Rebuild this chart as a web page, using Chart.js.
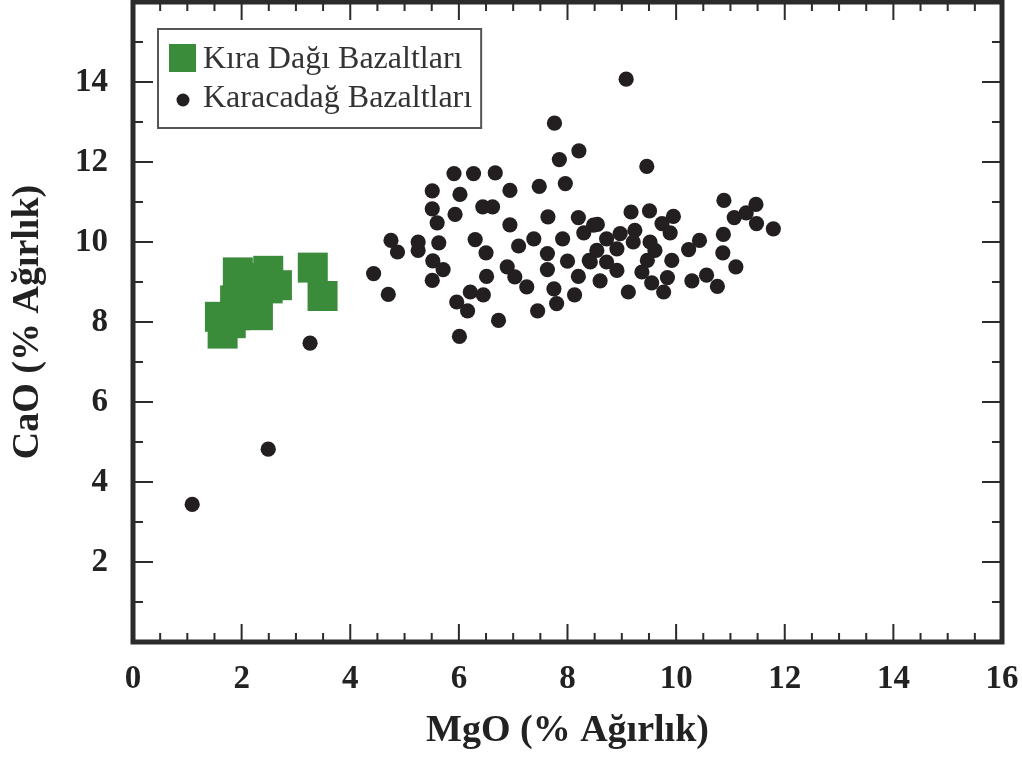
<!DOCTYPE html>
<html>
<head>
<meta charset="utf-8">
<title>MgO - CaO</title>
<script src="https://cdn.jsdelivr.net/npm/chart.js@4.4.1/dist/chart.umd.min.js"></script>
<style>
  html, body { margin: 0; padding: 0; background: #fff; }
  .wrap { width: 1022px; height: 762px; }
</style>
</head>
<body>
<div class="wrap"><canvas id="mgoChart"></canvas></div>
<script>
const seriesNames = ["Kıra Dağı Bazaltları", "Karacadağ Bazaltları"];

// Kıra Dağı (green squares)
const kiraMgO = [1.93, 2.49, 2.65, 2.30, 1.65, 1.80, 1.88, 1.60, 1.88, 2.48, 2.15, 2.10, 2.20, 2.00, 3.31, 3.49];
const kiraCaO = [9.24, 9.28, 8.92, 8.17, 7.71, 7.97, 8.17, 8.13, 8.54, 8.84, 8.79, 9.10, 8.50, 8.30, 9.36, 8.65];

// Karacadağ (black dots)
const karaMgO = [
  7.76, 8.21, 7.85, 7.96, 7.48, 5.91, 6.27, 6.67, 5.51, 6.02, 6.94, 5.51, 5.93, 6.44, 6.62, 5.60,
  6.94, 7.64, 8.20, 8.48, 8.30, 4.75, 4.87, 5.25, 5.25, 5.63, 6.30, 6.50, 7.10, 7.38, 7.91, 7.63,
  7.63, 8.00, 8.20, 8.42, 5.52, 5.71, 5.51, 4.43, 4.70, 6.51, 6.89, 7.03, 7.25, 6.21, 6.45, 5.96,
  6.16, 6.01, 6.73, 7.45, 7.75, 7.80, 8.13,
  9.08, 9.46, 10.88, 11.47, 11.29, 11.07, 11.48, 11.79, 10.87, 10.86, 11.10, 10.29, 10.56, 10.76,
  10.43, 10.23, 9.95, 9.51, 9.17, 9.74, 8.55, 8.97, 8.72, 9.24, 9.89, 8.54, 8.91, 9.21, 9.52, 9.61,
  9.47, 9.92, 8.40, 8.72, 8.91, 9.37, 9.84, 9.55, 9.77, 8.60, 9.12,
  3.26, 2.49, 1.09
];
const karaCaO = [
  12.97, 12.28, 12.06, 11.46, 11.39, 11.71, 11.71, 11.73, 11.28, 11.19, 11.29, 10.83, 10.69, 10.88, 10.88, 10.48,
  10.43, 10.63, 10.61, 10.42, 10.23, 10.04, 9.75, 10.00, 9.79, 9.98, 10.06, 9.73, 9.90, 10.08, 10.08, 9.71,
  9.31, 9.52, 9.14, 9.50, 9.53, 9.31, 9.04, 9.21, 8.69, 9.14, 9.38, 9.13, 8.88, 8.75, 8.68, 8.50,
  8.28, 7.64, 8.04, 8.28, 8.83, 8.46, 8.68,
  14.07, 11.89, 11.04, 10.94, 10.73, 10.61, 10.46, 10.33, 10.19, 9.73, 9.38, 9.03, 9.17, 8.89,
  10.04, 9.81, 10.64, 10.78, 10.75, 10.46, 10.44, 10.21, 10.08, 10.29, 10.23, 9.79, 9.83, 10.00, 10.00, 9.79,
  9.54, 9.54, 9.54, 9.50, 9.29, 9.25, 9.11, 8.98, 8.75, 9.03, 8.75,
  7.47, 4.82, 3.44
];

const xTickLabels = [0, 2, 4, 6, 8, 10, 12, 14, 16];
const yTickLabels = [2, 4, 6, 8, 10, 12, 14];

const serif = "'Liberation Serif', 'Times New Roman', serif";
const ink = "#222";

const toPoints = (xs, ys) => xs.map((x, i) => ({ x: x, y: ys[i] }));

// frame with inward ticks on all four sides
const framePlugin = {
  id: "frame",
  beforeDatasetsDraw(chart) {
    const { ctx, chartArea: a, scales } = chart;
    ctx.save();
    ctx.strokeStyle = "#2b2b2b";
    ctx.lineWidth = 2;
    ctx.beginPath();
    for (let v = 0; v <= 16; v += 0.5) {
      const px = scales.x.getPixelForValue(v);
      const len = v % 2 === 0 ? 18 : 9;
      ctx.moveTo(px, a.bottom);
      ctx.lineTo(px, a.bottom - len);
      ctx.moveTo(px, a.top);
      ctx.lineTo(px, a.top + len);
    }
    for (let v = 0; v <= 16; v += 1) {
      const py = scales.y.getPixelForValue(v);
      const len = v % 2 === 0 ? 20 : 10;
      ctx.moveTo(a.left, py);
      ctx.lineTo(a.left + len, py);
      ctx.moveTo(a.right, py);
      ctx.lineTo(a.right - len, py);
    }
    ctx.stroke();
    ctx.lineWidth = 5;
    ctx.strokeRect(a.left, a.top, a.right - a.left, a.bottom - a.top);
    ctx.restore();
  },
};

// boxed legend inside the plot, upper left
const boxLegend = {
  id: "boxLegend",
  afterDraw(chart) {
    const { ctx, chartArea: a } = chart;
    const sets = chart.data.datasets;
    ctx.save();
    ctx.font = "32px " + serif;
    const textX = a.left + 70;
    const widest = Math.max(...sets.map((d) => ctx.measureText(d.label).width));
    const boxL = a.left + 25;
    const boxT = a.top + 27;
    ctx.lineWidth = 2;
    ctx.strokeStyle = "#555";
    ctx.strokeRect(boxL, boxT, textX + widest + 9 - boxL, 99);

    ctx.fillStyle = sets[0].backgroundColor;
    ctx.fillRect(a.left + 36, a.top + 42, 27, 28);

    ctx.beginPath();
    ctx.arc(a.left + 50, a.top + 98, 6.5, 0, Math.PI * 2);
    ctx.fillStyle = sets[1].backgroundColor;
    ctx.fill();

    ctx.fillStyle = "#333";
    ctx.textBaseline = "middle";
    ctx.textAlign = "left";
    ctx.fillText(sets[0].label, textX, a.top + 58);
    ctx.fillText(sets[1].label, textX, a.top + 97);
    ctx.restore();
  },
};

const ctx = document.getElementById("mgoChart");

const myChart = new Chart(ctx, {
  type: "scatter",
  data: {
    datasets: [
      {
        label: seriesNames[0],
        data: toPoints(kiraMgO, kiraCaO),
        pointStyle: "rect",
        pointRadius: 21.2,
        borderWidth: 0,
        backgroundColor: "#3a8b3a",
        borderColor: "#3a8b3a",
      },
      {
        label: seriesNames[1],
        data: toPoints(karaMgO, karaCaO),
        pointStyle: "circle",
        pointRadius: 7.6,
        borderWidth: 0,
        backgroundColor: "#231f20",
        borderColor: "#231f20",
      },
    ],
  },
  options: {
    responsive: true,
    maintainAspectRatio: false,
    animation: false,
    events: [],
    layout: {
      autoPadding: false,
      padding: { top: 2, right: 20, left: 0, bottom: 0 },
    },
    plugins: {
      legend: { display: false },
      tooltip: { enabled: false },
    },
    scales: {
      x: {
        type: "linear",
        min: 0,
        max: 16,
        afterBuildTicks: (scale) => {
          scale.ticks = xTickLabels.map((v) => ({ value: v }));
        },
        afterFit: (scale) => {
          scale.height = 120;
          scale.paddingLeft = 0;
          scale.paddingRight = 0;
        },
        grid: { display: false, drawTicks: false },
        border: { display: false },
        ticks: {
          autoSkip: false,
          maxRotation: 0,
          padding: 21,
          color: ink,
          font: { family: serif, size: 33, weight: "bold", lineHeight: 1 },
        },
        title: {
          display: true,
          text: "MgO (% Ağırlık)",
          color: ink,
          padding: { top: 0, bottom: 12 },
          font: { family: serif, size: 38, weight: "bold", lineHeight: 1 },
        },
      },
      y: {
        type: "linear",
        min: 0,
        max: 16,
        afterBuildTicks: (scale) => {
          scale.ticks = yTickLabels.map((v) => ({ value: v }));
        },
        afterFit: (scale) => {
          scale.width = 133;
          scale.paddingTop = 0;
          scale.paddingBottom = 0;
        },
        grid: { display: false, drawTicks: false },
        border: { display: false },
        ticks: {
          autoSkip: false,
          padding: 25,
          color: ink,
          font: { family: serif, size: 33, weight: "bold", lineHeight: 1 },
        },
        title: {
          display: true,
          text: "CaO (% Ağırlık)",
          color: ink,
          padding: { top: 9, bottom: 0 },
          font: { family: serif, size: 38, weight: "bold", lineHeight: 1 },
        },
      },
    },
  },
  plugins: [framePlugin, boxLegend],
});
</script>
</body>
</html>
